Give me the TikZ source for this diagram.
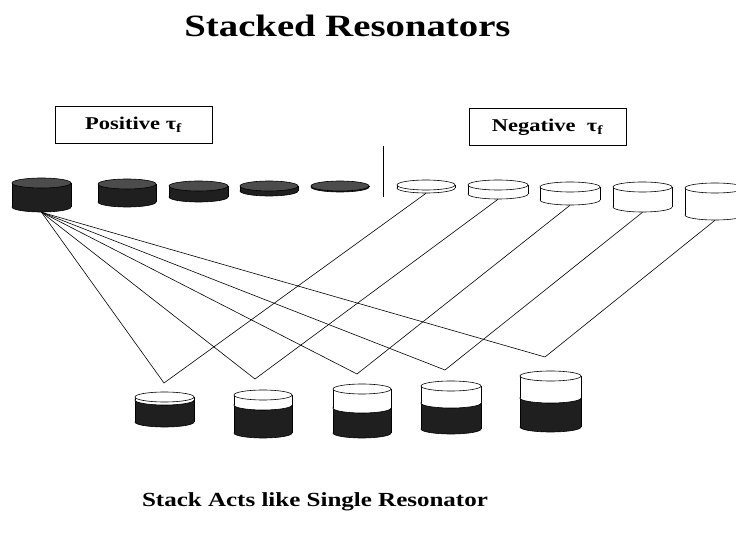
\documentclass[tikz,border=0pt]{standalone}
\usepackage{fontspec}
\setmainfont{Liberation Serif}
\newfontfamily\slidefont[FakeStretch=1.25]{Liberation Serif}
\usetikzlibrary{fit}

\newcommand\puckry{5}
% puck: name, centre x, top y, bottom y, width, top fill, body fill
\newcommand\puck[7]{%
  \filldraw[fill=#7] (#2,#4-\puckry) ellipse [x radius=#5/2,y radius=\puckry];
  \fill[#7] (#2-#5/2,#3+\puckry) rectangle (#2+#5/2,#4-\puckry);
  \draw (#2-#5/2,#3+\puckry) -- (#2-#5/2,#4-\puckry)
        (#2+#5/2,#3+\puckry) -- (#2+#5/2,#4-\puckry);
  \filldraw[fill=#6] (#2,#3+\puckry) ellipse [x radius=#5/2,y radius=\puckry];
  \node[fit={(#2-#5/2,#3) (#2+#5/2,#4)},inner sep=0pt] (#1) {};
}

\begin{document}
\begin{tikzpicture}[x=1pt,y=-1pt,line width=0.6pt,
    heading/.style={font=\slidefont\bfseries\fontsize{31}{36}\selectfont,anchor=base},
    caption/.style={font=\slidefont\bfseries\fontsize{20}{24}\selectfont,anchor=base},
    tagbox/.style={draw,line width=0.5pt,minimum width=157pt,minimum height=37pt,
      inner sep=0pt,font=\slidefont\bfseries\fontsize{18}{22}\selectfont},
    conn/.style={line width=0.6pt}
  ]
  \fill[white] (0,0) rectangle (736,534);
  \useasboundingbox (0,0) rectangle (736,534);

  \node[heading] (title) at (347.5,37) {Stacked Resonators};
  \node[caption] (caption) at (315,506) {Stack Acts like Single Resonator};

  \node[tagbox] (pos) at (133.5,124.5) {Positive τ\textsubscript{f}};
  \node[tagbox] (neg) at (547.5,127) {Negative\ \ τ\textsubscript{f}};
  \coordinate (divtop) at (383,146);
  \coordinate (divbot) at (383,197);
  \draw[line width=0.5pt] (divtop) -- (divbot);

  % positive tau_f discs
  \foreach \n/\x/\t/\b/\w in {d1/41.5/178/212/59,d2/127/179/207/58,
      d3/198.5/181/202/59,d4/269/181/196/58,d5/340/181/192/58}
    \puck{\n}{\x}{\t}{\b}{\w}{black!70}{black!88};

  % negative tau_f discs
  \foreach \n/\x/\t/\b/\w in {n1/426/180/193/58,n2/498/180/199/60,
      n3/570/182/205/60,n4/642.5/182/212/59,n5/715/183/220/60}
    \puck{\n}{\x}{\t}{\b}{\w}{white}{white};

  % junctions above the stacks
  \coordinate (v1) at (164,383);
  \coordinate (v2) at (255,379);
  \coordinate (v3) at (357,374);
  \coordinate (v4) at (445,370);
  \coordinate (v5) at (545,357);
  \foreach \i in {1,...,5}
    \draw[conn] (d1.south) -- (v\i) -- (n\i.south);

  % stacks: dark lower part, light upper part
  \foreach \i/\x/\t/\s/\b/\w in {1/164.5/392/405/427/59,2/263/390/410/438/58,
      3/362/384/413/438/58,4/451/381/408/434/60,5/550.5/371/403/432/61}{
    \puck{s\i b}{\x}{\s-2*\puckry}{\b}{\w}{black!88}{black!88}
    \puck{s\i t}{\x}{\t}{\s}{\w}{white}{white}
  }
\end{tikzpicture}
\end{document}
